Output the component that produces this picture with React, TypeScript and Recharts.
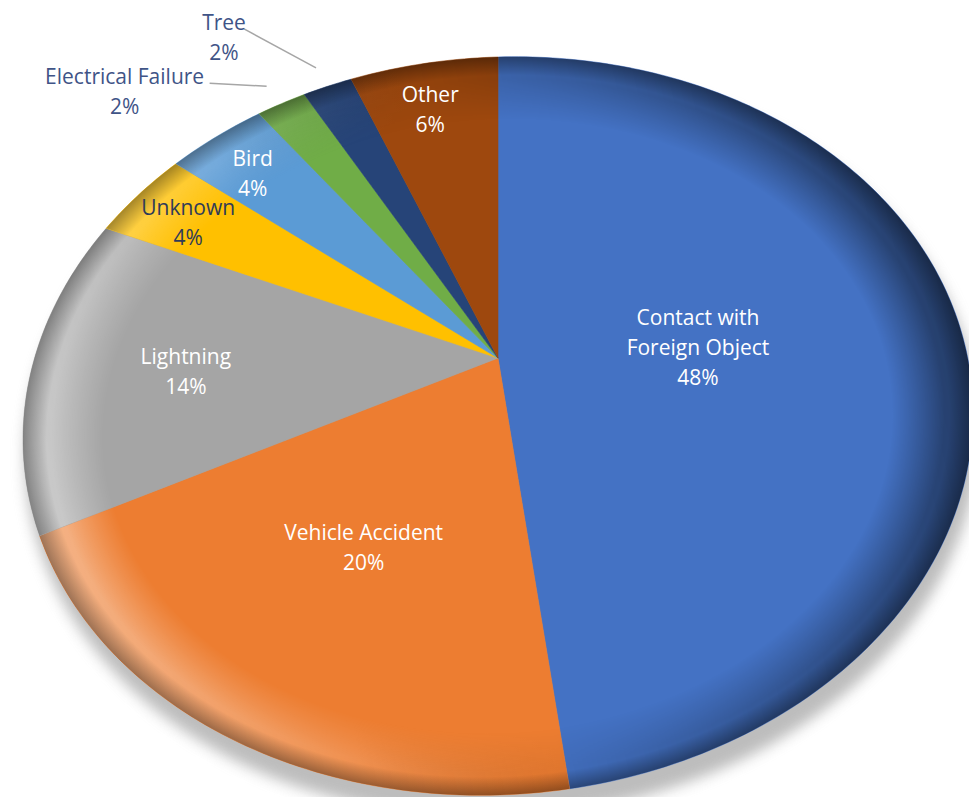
import React from 'react';
import { PieChart, Pie, Cell } from 'recharts';

const categories = [
  'Contact with Foreign Object',
  'Vehicle Accident',
  'Lightning',
  'Unknown',
  'Bird',
  'Electrical Failure',
  'Tree',
  'Other',
];
const shares = [48, 20, 14, 4, 4, 2, 2, 6];
const colors = ['#4472C4', '#ED7D31', '#A5A5A5', '#FFC000', '#5B9BD5', '#70AD47', '#264478', '#9E480E'];

const data = categories.map((name, i) => ({ name, value: shares[i] }));
const total = shares.reduce((a, b) => a + b, 0);

const W = 969;
const H = 797;
const CX = 498;
const CY = 426;
const RX = 475;
const ASPECT = 369 / 475; // vertical squash of the tilted disc
const TILT = -0.184; // perspective: near (bottom) side looks bigger
const SHEAR = -0.028; // left side sits a little lower than the right
const RAD = Math.PI / 180;
const FONT = '"Open Sans", "Noto Sans", sans-serif';

// map a point of the flat pie (recharts angle, r as fraction of radius) onto the tilted disc
function project(cx: number, cy: number, rx: number, angle: number, r: number) {
  const sx = r * Math.cos(angle * RAD);
  const sy = -r * Math.sin(angle * RAD);
  const d = 1 + TILT * sy;
  const k = Math.sqrt(1 - TILT * TILT);
  const x = cx + rx * ((sx * k) / d);
  const y = cy + rx * ASPECT * ((sy + TILT) / d) + SHEAR * (x - cx);
  return { x, y };
}

const Slice = (props: any) => {
  const { cx, cy, outerRadius, startAngle, endAngle, index } = props;
  const fill = props.fill || colors[index];
  const apex = project(cx, cy, outerRadius, 0, 0);
  const steps = Math.max(2, Math.ceil(Math.abs(endAngle - startAngle)));
  let d = `M${apex.x},${apex.y}`;
  for (let i = 0; i <= steps; i++) {
    const a = startAngle + ((endAngle - startAngle) * i) / steps;
    const p = project(cx, cy, outerRadius, a, 1);
    d += `L${p.x.toFixed(2)},${p.y.toFixed(2)}`;
  }
  d += 'Z';
  return (
    <g>
      <path d={d} fill={fill} stroke={fill} strokeWidth={0.6} />
      <path d={d} fill="url(#bevelLight)" mask="url(#rimMask)" />
      <path d={d} fill="url(#edgeDark)" />
    </g>
  );
};

function wrap(text: string, max: number) {
  const out: string[] = [];
  let line = '';
  text.split(' ').forEach((w) => {
    if (line && (line + ' ' + w).length > max) {
      out.push(line);
      line = w;
    } else {
      line = line ? line + ' ' + w : w;
    }
  });
  if (line) out.push(line);
  return out;
}

function isLight(hex: string) {
  const r = parseInt(hex.slice(1, 3), 16) / 255;
  const g = parseInt(hex.slice(3, 5), 16) / 255;
  const b = parseInt(hex.slice(5, 7), 16) / 255;
  return 0.2126 * r + 0.7152 * g + 0.0722 * b > 0.7;
}

// leader offsets for the labels that sit outside: [line dx, line dy, text dx]
const leaderOffsets = [
  [-57, -3, -85],
  [-72, -39, -20],
];

// how far out (fraction of radius) the inside labels sit, by slice size
function labelRadius(percent: number) {
  if (percent >= 0.3) return 0.44;
  if (percent >= 0.15) return 0.53;
  if (percent >= 0.1) return 0.66;
  return 0.84;
}

const renderLabel = (props: any) => {
  const { cx, cy, outerRadius, midAngle, percent, name, index } = props;
  const pct = `${Math.round(percent * 100)}%`;
  if (percent < 0.03) {
    const order = shares.slice(0, index).filter((v) => v / total < 0.03).length;
    const [ldx, ldy, tdx] = leaderOffsets[order] || [-60, 0, -60];
    const s = project(cx, cy, outerRadius, midAngle, 1.08);
    const e = { x: s.x + ldx, y: s.y + ldy };
    const tx = e.x + tdx;
    return (
      <g>
        <line x1={s.x} y1={s.y} x2={e.x} y2={e.y} stroke="#A6A6A6" strokeWidth={1.5} />
        <text x={tx} y={e.y - 7} textAnchor="middle" dominantBaseline="central" fill="#3F5487" fontFamily={FONT} fontSize={21}>
          {name}
        </text>
        <text x={tx} y={e.y + 23} textAnchor="middle" dominantBaseline="central" fill="#3F5487" fontFamily={FONT} fontSize={21}>
          {pct}
        </text>
      </g>
    );
  }
  const p = project(cx, cy, outerRadius, midAngle, labelRadius(percent));
  const lines = [...wrap(name, 16), pct];
  const color = isLight(colors[index]) ? '#2F3B58' : '#FFFFFF';
  const y0 = p.y + 4 - ((lines.length - 1) * 30) / 2;
  return (
    <g>
      {lines.map((t, i) => (
        <text key={i} x={p.x - 4} y={y0 + i * 30} textAnchor="middle" dominantBaseline="central" fill={color} fontFamily={FONT} fontSize={21}>
          {t}
        </text>
      ))}
    </g>
  );
};

const App: React.FC = () => {
  const RY = RX * ASPECT;
  const shearM = `matrix(1 ${SHEAR} 0 1 0 ${-SHEAR * CX})`;
  return (
    <div style={{ position: 'absolute', left: 0, top: 0, width: W, height: H, background: '#fff' }}>
      <PieChart width={W} height={H} margin={{ top: 0, right: 0, bottom: 0, left: 0 }}>
        <defs>
          <filter id="blurShadow" x="-10%" y="-10%" width="120%" height="120%">
            <feGaussianBlur stdDeviation={7} />
          </filter>
          <radialGradient id="rimFade" cx="0.5" cy="0.5" r="0.5">
            <stop offset="0.83" stopColor="#000" />
            <stop offset="0.94" stopColor="#fff" />
            <stop offset="1" stopColor="#fff" />
          </radialGradient>
          <mask id="rimMask">
            <ellipse cx={CX} cy={CY} rx={RX} ry={RY} fill="url(#rimFade)" transform={shearM} />
          </mask>
          <linearGradient id="bevelLight" gradientUnits="userSpaceOnUse" x1={CX - RX} y1={CY + RY * 0.5} x2={CX + RX} y2={CY - RY * 0.1}>
            <stop offset="0" stopColor="#fff" stopOpacity={0.45} />
            <stop offset="0.3" stopColor="#fff" stopOpacity={0.15} />
            <stop offset="0.5" stopColor="#000" stopOpacity={0.05} />
            <stop offset="1" stopColor="#000" stopOpacity={0.45} />
          </linearGradient>
          <radialGradient
            id="edgeDark"
            gradientUnits="userSpaceOnUse"
            cx={CX}
            cy={CY}
            r={RX}
            gradientTransform={`matrix(1 ${SHEAR} 0 ${ASPECT} 0 ${CY * (1 - ASPECT) - SHEAR * CX})`}
          >
            <stop offset="0" stopColor="#000" stopOpacity={0} />
            <stop offset="0.95" stopColor="#000" stopOpacity={0} />
            <stop offset="1" stopColor="#000" stopOpacity={0.35} />
          </radialGradient>
        </defs>
        <ellipse
          cx={CX + 4}
          cy={CY + 18}
          rx={RX + 2}
          ry={RY + 4}
          fill="#9a9a9a"
          opacity={0.65}
          filter="url(#blurShadow)"
          transform={shearM}
        />
        <Pie
          data={data}
          dataKey="value"
          nameKey="name"
          cx={CX}
          cy={CY}
          outerRadius={RX}
          startAngle={90}
          endAngle={-270}
          shape={Slice}
          label={renderLabel}
          labelLine={false}
          isAnimationActive={false}
        >
          {data.map((d, i) => (
            <Cell key={d.name} fill={colors[i]} />
          ))}
        </Pie>
      </PieChart>
    </div>
  );
};

export default App;
